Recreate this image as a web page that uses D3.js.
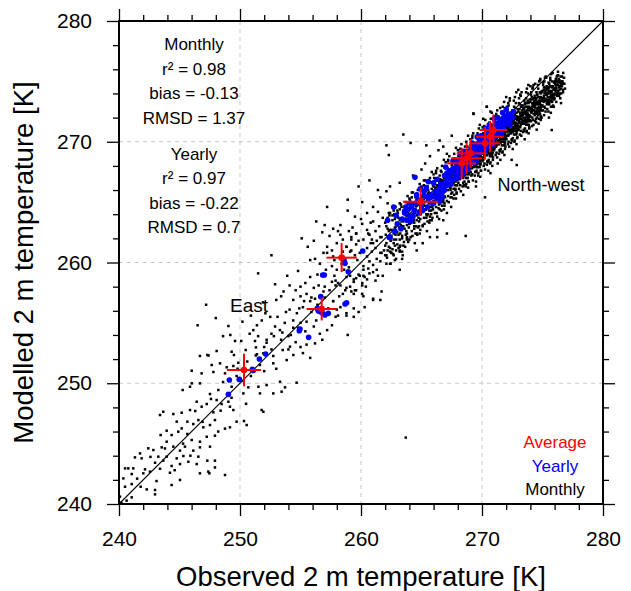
<!DOCTYPE html>
<html><head><meta charset="utf-8">
<script src="https://cdn.jsdelivr.net/npm/d3@7"></script>
<style>body{margin:0;background:#fff}svg{display:block}text{font-family:"Liberation Sans",Arial,Helvetica,sans-serif}</style>
</head><body><svg id="c" width="631" height="591"></svg>
<script>
const majorTicks=[240,250,260,270,280];
const minorTicks=[242,244,246,248,252,254,256,258,262,264,266,268,272,274,276,278];
const gridValues=[250,260,270];
const xTitle="Observed 2 m temperature [K]";
const yTitle="Modelled 2 m temperature [K]";
const statsMonthly=["Monthly","r² = 0.98","bias = -0.13","RMSD = 1.37"];
const statsYearly=["Yearly","r² = 0.97","bias = -0.22","RMSD = 0.7"];
const legendLabels=["Average","Yearly","Monthly"];
const legendColors=["#ff0000","#0000ff","#000000"];
const regionNames=["North-west","East"];

// monthly values [observed, modelled]
const monthlyCold=[[249.59,253.5],[251.24,253.5],[252.2,253.36],[247.3,252.34],[246.69,252.26],[248.07,252.67],[249.31,252.61],[249.5,252.34],[250.47,252.75],[251.32,252.97],[251.93,252.48],[252.75,252.26],[253.53,252.75],[254.13,253.03],[254.41,252.34],[253.86,251.92],[252.75,251.65],[251.65,251.51],[249.86,251.7],[249.45,251.43],[248.9,251.32],[248.35,251.65],[247.66,251.51],[246.83,250.82],[246.01,251.04],[247.8,250.93],[248.76,250.82],[249.72,250.6],[250.28,250.21],[250.69,249.66],[251.52,249.71],[252.2,249.85],[253.31,250.13],[253.72,249.66],[254.68,250.05],[252.75,249.16],[253.44,249.3],[251.65,249.16],[250.28,249.16],[249.31,249.71],[248.21,249.44],[247.52,249.11],[246.69,249.99],[246.01,249.99],[245.26,249.44],[245.87,249.71],[248.07,248.61],[248.48,248.28],[249.04,248.47],[249.17,248.06],[249.45,247.78],[248.4,247.73],[247.8,247.59],[247.25,248.28],[246.83,248.06],[246.42,248.47],[245.87,247.78],[245.18,247.56],[244.49,247.45],[243.66,247.64],[243.39,247.37],[249.72,246.82],[250.33,246.87],[250.55,246.54],[251.79,247.78],[251.93,247.64],[249.17,246.35],[248.76,246.24],[247.93,246.95],[247.52,246.54],[246.97,246.35],[246.56,246.95],[246.14,246.62],[245.65,246.82],[245.18,246.26],[244.77,246.82],[243.94,246.07],[243.44,245.71],[244.35,245.71],[244.9,245.99],[245.65,245.8],[246.01,245.3],[246.69,245.16],[247.25,245.57],[247.93,245.66],[247.52,244.75],[246.69,244.69],[246.14,244.42],[245.45,244.75],[245.04,244.42],[244.49,244.75],[243.94,245.16],[243.53,244.69],[242.84,244.47],[242.42,244.61],[241.74,244.19],[241.32,243.86],[241.87,243.78],[243.25,243.92],[243.94,243.92],[244.77,243.78],[245.32,243.97],[246.56,243.92],[247.3,243.59],[247.93,243.59],[246.42,243.31],[245.73,243.5],[245.04,243.31],[244.35,243.15],[243.66,243.59],[242.98,243.42],[242.56,242.68],[242.15,242.87],[241.18,242.95],[240.77,242.95],[240.5,242.95],[241.05,242.48],[242.01,242.54],[240.36,242.12],[241.05,241.65],[241.79,241.43],[242.29,241.21],[242.98,241.16],[244.35,241.57],[245.04,241.99],[246.69,242.54],[247.38,242.68],[247.93,243.03],[248.76,242.4],[240.08,240.61],[240.5,241.43],[240.63,240.28],[241.05,240.55],[240.2,240.1],[242.98,240.8],[244.21,242.59],[243.39,242.92],[247.47,242.54],[249.04,254.74],[249.2,254.0],[247.4,252.3],
[241.5,242.1],[242.6,243.9],[243.1,241.9],[243.8,244.6],[244.6,242.8],[245.3,245.0],[245.9,244.0],[246.3,247.7],[246.9,246.8],[247.6,248.7],[248.2,246.0],[248.6,250.1],[249.3,248.8],[249.8,251.2],[250.5,248.3],[250.9,250.6],[251.4,252.4],[252.0,251.0],[252.6,252.8],[253.0,251.2],[253.5,254.2],[254.0,252.8],[254.4,254.6],[254.9,256.2],[255.4,254.3],[255.9,257.1],[256.3,255.2],[256.9,257.6],[257.3,256.2],[257.8,258.9],[258.2,257.2],[258.6,259.4],[259.1,258.9],[259.7,260.2],[260.2,258.9],[260.8,261.6],[261.3,261.8],[261.9,261.0],[250.2,255.1],[248.6,253.9],[247.2,256.5],[248.0,255.4],[246.5,254.8]];
const monthlyMid=[[258.3,262.3],[259.0,262.6],[259.2,262.1],[259.6,262.4],[260.2,261.9],[260.7,262.3],[261.2,262.6],[261.7,262.1],[262.1,261.6],[262.7,262.4],[263.0,261.5],[261.0,261.6],[260.5,261.2],[259.6,261.5],[259.2,261.0],[258.8,261.3],[258.0,261.6],[257.6,261.0],[257.2,260.8],[252.6,260.6],[255.8,260.2],[256.2,260.3],[256.6,259.9],[257.6,259.7],[258.0,259.4],[258.8,258.8],[259.4,258.6],[259.8,259.0],[260.2,259.7],[260.7,260.1],[261.3,260.3],[261.7,260.8],[262.1,259.9],[262.7,260.6],[263.2,261.0],[261.0,259.2],[260.5,258.6],[260.1,258.1],[259.6,257.7],[259.2,257.6],[260.2,257.2],[261.0,256.9],[261.7,257.6],[255.8,258.8],[255.4,258.3],[255.0,258.0],[254.6,257.7],[254.1,258.1],[253.6,257.6],[253.4,257.2],[253.0,256.9],[254.4,256.9],[255.0,257.2],[255.5,257.4],[256.1,257.9],[256.5,258.1],[257.0,258.0],[257.4,257.7],[257.9,258.5],[258.3,258.1],[258.8,257.9],[251.5,259.1],[254.1,256.1],[254.7,255.8],[255.2,256.3],[255.8,256.8],[256.2,257.0],[257.7,256.8],[258.3,256.3],[258.8,255.8],[259.4,255.5],[259.8,255.9],[260.3,256.3],[257.9,255.5],[257.6,254.8],[257.2,254.4],[256.6,254.1],[256.1,254.7],[255.5,255.1],[255.0,255.0],[254.4,255.2],[253.7,255.0],[253.3,254.4],[252.9,254.7],[252.5,255.5],[252.1,255.8],[251.8,255.2],[251.4,254.8],[251.1,254.4],[250.8,254.1],[251.5,253.9],[252.2,253.6],[252.8,253.9],[253.4,253.6],[254.0,253.9],[254.6,253.4],[255.0,253.0],[255.5,253.2],[256.2,253.3],[255.2,252.5],[255.8,252.1],[256.8,253.6],[261.6,256.9],[263.2,259.4],
[259.1,260.9],[259.5,260.6],[259.9,260.8],[260.5,260.5],[260.9,260.9],[261.6,260.8],[262.0,260.6],[262.5,260.8],[263.2,260.9],[263.4,260.3],[262.8,260.2],[262.4,259.9],[261.6,260.1],[261.0,259.8],[260.6,259.5],[260.2,259.4],[259.9,258.9],[259.6,258.7],[259.4,258.4],[259.1,258.0],[259.5,257.7],[260.1,258.3],[260.3,258.8],[260.7,259.1],[261.3,259.4],[261.4,258.9],[261.8,258.9],[261.2,258.5],[260.4,258.0],[260.1,257.4],[259.4,257.4],[258.7,257.7],[258.5,257.4],[258.1,258.3],[257.9,258.1],[257.6,258.4],[257.7,256.8],[258.0,256.1],[258.1,255.6],[258.8,255.6],[259.4,256.2],[261.0,257.0],[258.9,254.0],[263.7,245.5],
[262.1,269.7],[265.4,269.7],[264.1,269.9],[262.3,268.9],[258.9,264.3],[255.1,262.0],[257.7,262.8],[258.3,263.1],[260.1,265.0],[259.5,263.8],[260.1,263.2],[260.5,264.1],[261.0,264.6],[261.6,265.4],[262.1,265.9],[261.4,264.2],[261.0,263.4],[261.8,263.7],[262.4,264.1],[260.5,262.7],[259.6,262.4],[259.2,261.9],[258.8,261.3],[258.5,260.9],[260.9,261.9],[261.6,262.1],[262.4,262.7],[262.9,263.1],[263.2,263.5],[263.5,263.0],[264.0,263.2],[262.7,261.9],[263.2,261.3],[264.0,261.9],[264.6,262.4],[265.1,263.0],[265.7,263.5],[266.3,263.8],[264.6,263.5],[263.8,262.4],[257.7,260.5],[257.2,261.3],[256.9,260.8],[261.4,266.0],[262.4,266.3],[263.2,266.6],[264.3,267.2],[265.0,267.7],[265.3,268.2],[265.7,268.8],[266.4,269.3],[266.8,269.6],[267.1,269.0],[265.7,262.1],[266.3,262.7],[266.8,263.5],[267.1,264.1],[265.1,261.6],[264.6,261.0],[263.8,261.9],[267.1,262.4],[266.3,262.1],[256.3,263.4],[257.2,264.6],[256.8,262.5],
[256.4,259.0],[257.1,259.4],[257.8,260.2],[258.5,261.9],[259.3,262.9],[260.0,263.6],[260.8,263.3],[261.5,263.0],[262.2,264.9],[258.1,262.6],[257.4,262.2],[259.8,261.8],[261.2,261.2],[260.6,262.4],[259.0,259.6],[258.4,259.9],[257.0,257.1],[256.4,256.5],[255.9,255.9],[255.3,256.8],[254.8,254.6],[254.2,254.0],[253.8,255.9],[253.1,255.5],[252.6,254.1],[252.0,253.0],[251.3,252.3],[250.6,251.8],[250.1,253.5],[250.9,255.6],[251.9,256.7],[252.9,258.2],[253.9,258.9],[254.8,259.3],[255.6,261.3],[256.1,261.8],[257.0,263.1],[258.9,265.2],[259.8,266.3],[260.7,266.8]];
const monthlyWarm=[[262.0,261.4],[262.1,263.0],[262.2,261.0],[262.3,262.6],[262.4,260.9],[262.5,262.2],[262.6,263.5],[262.7,261.6],[262.8,262.9],[262.9,261.9],[262.05,262.3],[262.15,260.4],[262.35,263.9],[262.45,261.8],[262.55,262.7],[262.65,260.7],[262.75,264.0],[262.85,262.3],[262.95,263.2],[262.3,261.3],[262.6,261.1],[262.8,263.6],[262.2,262.8],[262.9,260.3],
[263.0,262.5],[263.1,263.7],[263.2,261.9],[263.3,263.1],[263.4,262.2],[263.5,264.3],[263.6,262.8],[263.7,263.9],[263.8,262.1],[263.9,263.4],[263.05,264.1],[263.15,262.9],[263.25,261.4],[263.35,264.6],[263.45,263.0],[263.55,261.7],[263.65,264.0],[263.75,262.6],[263.85,264.8],[263.95,262.9],[263.1,262.3],[263.3,262.7],[263.5,263.4],[263.7,262.3],[263.9,264.2],[263.2,264.9],[263.4,260.9],[263.6,263.6],[263.8,263.1],[263.0,263.8],
[264.0,263.2],[264.1,264.6],[264.2,262.6],[264.3,264.0],[264.4,263.3],[264.5,265.4],[264.6,263.9],[264.7,262.9],[264.8,264.8],[264.9,263.6],[264.05,265.2],[264.15,263.8],[264.25,262.2],[264.35,264.9],[264.45,264.1],[264.55,263.0],[264.65,265.7],[264.75,264.3],[264.85,262.4],[264.95,265.3],[264.1,263.4],[264.3,263.7],[264.5,264.4],[264.7,264.0],[264.9,264.5],[264.2,265.8],[264.4,262.8],[264.6,264.7],[264.8,263.4],[264.0,264.4],[264.35,263.5],[264.55,265.0],[264.75,263.7],[264.95,264.0],
[265.0,264.2],[265.1,265.6],[265.2,263.7],[265.3,265.0],[265.4,264.4],[265.5,266.3],[265.6,264.9],[265.7,263.8],[265.8,265.7],[265.9,264.6],[265.05,266.2],[265.15,264.8],[265.25,263.2],[265.35,265.9],[265.45,265.2],[265.55,264.0],[265.65,266.6],[265.75,265.3],[265.85,263.5],[265.95,266.4],[265.1,264.5],[265.3,264.7],[265.5,265.4],[265.7,265.0],[265.9,265.5],[265.2,266.8],[265.4,263.7],[265.6,265.8],[265.8,264.3],[265.0,265.4],[265.35,264.4],[265.55,266.0],[265.75,264.6],[265.95,265.0],[265.15,265.2],[265.45,263.9],[265.65,264.3],[265.85,266.1],
[266.0,265.1],[266.1,266.5],[266.2,264.6],[266.3,266.0],[266.4,265.3],[266.5,267.2],[266.6,265.8],[266.7,264.7],[266.8,266.6],[266.9,265.5],[266.05,267.0],[266.15,265.7],[266.25,264.1],[266.35,266.8],[266.45,266.1],[266.55,264.9],[266.65,267.5],[266.75,266.2],[266.85,264.4],[266.95,267.3],[266.1,265.4],[266.3,265.6],[266.5,266.3],[266.7,265.9],[266.9,266.4],[266.2,267.6],[266.4,264.5],[266.6,266.7],[266.8,265.2],[266.0,266.3],[266.35,265.3],[266.55,266.9],[266.75,265.5],[266.95,265.9],[266.15,266.2],[266.45,264.8],[266.65,265.2],[266.85,267.0],[266.25,265.9],[266.6,266.1],[266.9,264.9],
[267.0,266.0],[267.1,267.4],[267.2,265.5],[267.3,266.9],[267.4,266.2],[267.5,268.1],[267.6,266.7],[267.7,265.6],[267.8,267.5],[267.9,266.4],[267.05,267.9],[267.15,266.6],[267.25,265.0],[267.35,267.7],[267.45,267.0],[267.55,265.8],[267.65,268.4],[267.75,267.1],[267.85,265.3],[267.95,268.2],[267.1,266.3],[267.3,266.5],[267.5,267.2],[267.7,266.8],[267.9,267.3],[267.2,268.5],[267.4,265.4],[267.6,267.6],[267.8,266.1],[267.0,267.2],[267.35,266.2],[267.55,267.8],[267.75,266.4],[267.95,266.8],[267.15,267.1],[267.45,265.7],[267.65,266.1],[267.85,267.9],[267.25,266.8],[267.6,267.0],[267.9,265.8],[267.05,266.6],[267.4,267.5],[267.7,267.9],
[268.0,266.9],[268.1,268.3],[268.2,266.4],[268.3,267.8],[268.4,267.1],[268.5,269.0],[268.6,267.6],[268.7,266.5],[268.8,268.4],[268.9,267.3],[268.05,268.8],[268.15,267.5],[268.25,265.9],[268.35,268.6],[268.45,267.9],[268.55,266.7],[268.65,269.3],[268.75,268.0],[268.85,266.2],[268.95,269.1],[268.1,267.2],[268.3,267.4],[268.5,268.1],[268.7,267.7],[268.9,268.2],[268.2,269.4],[268.4,266.3],[268.6,268.5],[268.8,267.0],[268.0,268.1],[268.35,267.1],[268.55,268.7],[268.75,267.3],[268.95,267.7],[268.15,268.0],[268.45,266.6],[268.65,267.0],[268.85,268.8],[268.25,267.7],[268.6,267.9],[268.9,266.7],[268.05,267.5],[268.4,268.4],[268.7,268.8],[268.2,267.0],[268.8,269.6],
[268.12,267.6],[268.32,268.2],[268.52,267.5],[268.72,268.3],[268.92,267.8],[268.22,268.6],[268.42,267.7],[268.62,268.0],[268.82,267.5],[268.02,267.7],[268.38,268.0],[268.78,267.9],[268.58,267.3],[268.18,267.9],[268.88,268.4],
[269.0,267.8],[269.1,269.2],[269.2,267.3],[269.3,268.7],[269.4,268.0],[269.5,269.9],[269.6,268.5],[269.7,267.4],[269.8,269.3],[269.9,268.2],[269.05,269.7],[269.15,268.4],[269.25,266.8],[269.35,269.5],[269.45,268.8],[269.55,267.6],[269.65,270.2],[269.75,268.9],[269.85,267.1],[269.95,270.0],[269.1,268.1],[269.3,268.3],[269.5,269.0],[269.7,268.6],[269.9,269.1],[269.2,270.3],[269.4,267.2],[269.6,269.4],[269.8,267.9],[269.0,269.0],[269.35,268.0],[269.55,269.6],[269.75,268.2],[269.95,268.6],[269.15,268.9],[269.45,267.5],[269.65,267.9],[269.85,269.7],[269.25,268.6],[269.6,268.8],[269.9,267.6],[269.05,268.4],[269.4,269.3],[269.7,269.7],[269.2,267.9],[269.8,270.5],[269.3,272.3],[269.5,266.3],
[269.12,268.5],[269.32,269.1],[269.52,268.4],[269.72,269.2],[269.92,268.7],[269.22,269.5],[269.42,268.6],[269.62,268.9],[269.82,268.4],[269.02,268.6],[269.38,268.9],[269.78,268.8],[269.58,268.2],[269.18,268.8],[269.88,269.4],
[270.0,268.7],[270.1,270.1],[270.2,268.2],[270.3,269.6],[270.4,268.9],[270.5,270.8],[270.6,269.4],[270.7,268.3],[270.8,270.2],[270.9,269.1],[270.05,270.6],[270.15,269.3],[270.25,267.7],[270.35,270.4],[270.45,269.7],[270.55,268.5],[270.65,271.1],[270.75,269.8],[270.85,268.0],[270.95,270.9],[270.1,269.0],[270.3,269.2],[270.5,269.9],[270.7,269.5],[270.9,270.0],[270.2,271.2],[270.4,268.1],[270.6,270.3],[270.8,268.8],[270.0,269.9],[270.35,268.9],[270.55,270.5],[270.75,269.1],[270.95,269.5],[270.15,269.8],[270.45,268.4],[270.65,268.8],[270.85,270.6],[270.25,269.5],[270.6,269.7],[270.9,268.5],[270.05,269.3],[270.4,270.2],[270.7,270.6],[270.2,268.8],[270.8,271.4],[270.4,272.9],[270.7,267.4],[270.1,271.9],
[270.12,269.5],[270.32,270.0],[270.52,269.3],[270.72,270.1],[270.92,269.6],[270.22,270.4],[270.42,269.5],[270.62,269.8],[270.82,269.3],[270.02,269.5],[270.38,269.8],[270.78,269.7],[270.58,269.1],[270.18,269.7],[270.88,270.3],
[271.0,269.6],[271.1,271.0],[271.2,269.1],[271.3,270.5],[271.4,269.8],[271.5,271.7],[271.6,270.3],[271.7,269.2],[271.8,271.1],[271.9,270.0],[271.05,271.5],[271.15,270.2],[271.25,268.7],[271.35,271.3],[271.45,270.6],[271.55,269.4],[271.65,272.0],[271.75,270.7],[271.85,268.9],[271.95,271.8],[271.1,269.9],[271.3,270.1],[271.5,270.8],[271.7,270.4],[271.9,270.9],[271.2,272.1],[271.4,269.0],[271.6,271.2],[271.8,269.7],[271.0,270.8],[271.35,269.8],[271.55,271.4],[271.75,270.0],[271.95,270.4],[271.15,270.7],[271.45,269.3],[271.65,269.7],[271.85,271.5],[271.25,270.4],[271.6,270.6],[271.9,269.4],[271.05,270.2],[271.4,271.1],[271.7,271.5],[271.2,269.7],[271.8,272.3],[271.5,272.8],[271.3,268.2],
[271.12,270.4],[271.32,270.9],[271.52,270.2],[271.72,271.0],[271.92,270.5],[271.22,271.3],[271.42,270.4],[271.62,270.7],[271.82,270.2],[271.02,270.4],[271.38,270.7],[271.78,270.6],[271.58,270.0],[271.18,270.6],[271.88,271.2],
[272.0,270.5],[272.1,271.9],[272.2,270.0],[272.3,271.4],[272.4,270.7],[272.5,272.6],[272.6,271.2],[272.7,270.1],[272.8,272.0],[272.9,270.9],[272.05,272.4],[272.15,271.1],[272.25,269.6],[272.35,272.2],[272.45,271.5],[272.55,270.3],[272.65,272.9],[272.75,271.6],[272.85,269.8],[272.95,272.7],[272.1,270.8],[272.3,271.0],[272.5,271.7],[272.7,271.3],[272.9,271.8],[272.2,273.0],[272.4,269.9],[272.6,272.1],[272.8,270.6],[272.0,271.7],[272.35,270.7],[272.55,272.3],[272.75,270.9],[272.95,271.3],[272.15,271.6],[272.45,270.2],[272.65,270.6],[272.85,272.4],[272.25,271.3],[272.6,271.5],[272.9,270.3],[272.05,271.1],[272.4,272.0],[272.7,272.4],[272.2,270.6],[272.8,273.2],[272.3,273.6],
[272.12,271.3],[272.32,271.8],[272.52,271.1],[272.72,271.9],[272.92,271.4],[272.22,272.2],[272.42,271.3],[272.62,271.6],[272.82,271.1],[272.02,271.3],[272.38,271.6],[272.78,271.5],[272.58,270.9],[272.18,271.5],[272.88,272.1],[272.48,272.0],[272.68,270.9],[272.28,270.9],
[273.0,271.3],[273.1,272.7],[273.2,270.9],[273.3,272.2],[273.4,271.5],[273.5,273.4],[273.6,272.0],[273.7,270.9],[273.8,272.8],[273.9,271.7],[273.05,273.2],[273.15,271.9],[273.25,270.5],[273.35,273.0],[273.45,272.3],[273.55,271.1],[273.65,273.6],[273.75,272.4],[273.85,270.7],[273.95,273.5],[273.1,271.6],[273.3,271.8],[273.5,272.5],[273.7,272.1],[273.9,272.6],[273.2,273.8],[273.4,270.8],[273.6,272.9],[273.8,271.4],[273.0,272.5],[273.35,271.5],[273.55,273.1],[273.75,271.7],[273.95,272.1],[273.15,272.4],[273.45,271.0],[273.65,271.4],[273.85,273.2],[273.25,272.1],[273.6,272.3],[273.9,271.1],[273.05,271.9],[273.4,272.8],[273.7,273.2],[273.2,271.4],[273.8,274.0],
[273.12,272.1],[273.32,272.6],[273.52,271.9],[273.72,272.6],[273.92,272.2],[273.22,272.9],[273.42,272.0],[273.62,272.4],[273.82,271.9],[273.02,272.0],[273.38,272.4],[273.78,272.3],[273.58,271.7],[273.18,272.3],[273.88,272.9],[273.48,272.7],[273.68,271.6],[273.28,271.6],
[274.0,272.1],[274.1,273.5],[274.2,271.8],[274.3,273.0],[274.4,272.4],[274.5,274.1],[274.6,272.8],[274.7,271.9],[274.8,273.6],[274.9,272.6],[274.05,273.9],[274.15,272.7],[274.25,271.4],[274.35,273.8],[274.45,273.1],[274.55,272.0],[274.65,274.4],[274.75,273.2],[274.85,271.8],[274.95,274.2],[274.1,272.5],[274.3,272.6],[274.5,273.3],[274.7,272.9],[274.9,273.4],[274.2,274.5],[274.4,271.7],[274.6,273.7],[274.8,272.3],[274.0,273.3],[274.35,272.3],[274.55,273.9],[274.75,272.5],[274.95,273.0],[274.15,273.2],[274.45,271.9],[274.65,272.2],[274.85,274.0],[274.25,272.9],[274.6,273.1],[274.9,272.0],[274.4,274.8],
[274.12,272.9],[274.32,273.4],[274.52,272.6],[274.72,273.4],[274.92,272.9],[274.22,273.6],[274.42,272.8],[274.62,273.2],[274.82,272.7],[274.02,272.8],[274.38,273.2],[274.78,273.1],[274.58,272.4],[274.18,273.1],[274.88,273.7],[274.48,273.5],[274.68,272.5],[274.28,272.3],
[275.0,273.0],[275.1,274.3],[275.2,272.8],[275.3,273.9],[275.4,273.3],[275.5,274.9],[275.6,273.7],[275.7,272.9],[275.8,274.5],[275.9,273.6],[275.05,274.7],[275.15,273.6],[275.25,272.5],[275.35,274.6],[275.45,274.0],[275.55,273.1],[275.65,275.1],[275.75,274.1],[275.85,272.9],[275.95,274.9],[275.1,273.4],[275.3,273.5],[275.5,274.2],[275.7,273.8],[275.9,274.3],[275.2,275.3],[275.4,272.7],[275.6,274.6],[275.8,273.3],[275.0,274.1],[275.35,273.2],[275.55,274.5],[275.75,273.4],[275.95,273.9],
[275.12,273.8],[275.32,274.3],[275.52,273.5],[275.72,274.2],[275.92,273.8],[275.22,274.5],[275.42,273.7],[275.62,274.0],[275.82,273.6],[275.02,273.6],[275.38,274.0],[275.78,273.9],[275.58,273.3],[275.18,274.0],[275.88,274.6],[275.48,274.4],
[276.0,274.0],[276.1,275.2],[276.2,273.8],[276.3,274.7],[276.4,274.3],[276.5,275.4],[276.6,274.6],[276.7,274.1],[276.05,274.8],[276.15,274.4],[276.25,275.5],[276.35,273.9],[276.45,274.9],[276.55,274.0],[276.2,275.0],[276.4,275.1],[276.8,274.8],[276.0,273.6],[276.3,274.2],[276.65,275.0],[276.12,274.5],[276.32,275.0],[276.52,274.4],[276.22,274.1],[276.42,274.6],[276.02,274.3],
[272.45,268.5],[272.87,268.07],[275.76,270.97],[270.39,272.9],[269.29,272.35],[268.65,262.2],[270.25,265.4],[263.5,270.6],[266.5,270.1],[267.5,270.5],[270.7,272.5],[272.0,273.7],[273.0,274.3],[274.0,274.6],[274.8,275.1],[275.3,275.3],[276.0,275.0],[276.7,274.8],[276.3,275.5],[276.2,274.1],[275.9,273.9],[275.3,273.5],[274.8,273.2],[274.1,272.6],[273.7,272.2],[273.3,271.8],[272.9,271.3],[272.5,271.0],[271.9,270.7],[271.5,270.3],[271.1,269.6],[270.7,269.0],[270.1,268.5],[269.6,267.9]];
const monthlyBandEdge=[[262.1,260.6],[262.3,264.1],[262.5,260.8],[262.7,264.3],[262.9,261.0],[262.2,263.7],[262.4,261.2],[262.6,263.9],[262.8,261.4],[262.0,263.3],[262.45,259.9],[262.85,264.6],
[263.1,261.2],[263.3,264.8],[263.5,261.4],[263.7,265.0],[263.9,261.7],[263.2,264.4],[263.4,262.0],[263.6,264.6],[263.8,262.0],[263.0,264.3],[263.45,260.6],[263.85,265.5],[263.25,262.4],[263.65,261.3],
[264.1,262.1],[264.3,265.8],[264.5,262.4],[264.7,266.0],[264.9,262.7],[264.2,265.4],[264.4,263.0],[264.6,265.6],[264.8,263.0],[264.0,265.3],[264.45,261.6],[264.85,266.5],[264.25,263.4],[264.65,262.3],[264.15,264.8],[264.55,264.7],
[265.1,263.1],[265.3,266.8],[265.5,263.4],[265.7,267.0],[265.9,263.7],[265.2,266.4],[265.4,264.0],[265.6,266.6],[265.8,264.0],[265.0,266.3],[265.45,262.6],[265.85,267.5],[265.25,264.4],[265.65,263.3],[265.15,265.8],[265.55,265.7],[265.95,264.4],
[266.1,264.1],[266.3,267.8],[266.5,264.4],[266.7,268.0],[266.9,264.7],[266.2,267.4],[266.4,265.0],[266.6,267.6],[266.8,265.0],[266.0,267.3],[266.45,263.6],[266.85,268.5],[266.25,265.4],[266.65,264.3],[266.15,266.8],[266.55,266.7],[266.95,265.4],[266.35,266.4],
[267.1,265.1],[267.3,268.8],[267.5,265.4],[267.7,269.0],[267.9,265.7],[267.2,268.4],[267.4,266.0],[267.6,268.6],[267.8,266.0],[267.0,268.3],[267.45,264.6],[267.85,269.5],[267.25,266.4],[267.65,265.3],[267.15,267.8],[267.55,267.7],[267.95,266.4],[267.35,267.4],[267.75,268.1],
[268.1,266.1],[268.3,269.8],[268.5,266.4],[268.7,270.0],[268.9,266.7],[268.2,269.4],[268.4,267.0],[268.6,269.6],[268.8,267.0],[268.0,269.3],[268.45,265.6],[268.85,270.5],[268.25,267.4],[268.65,266.3],[268.15,268.8],[268.55,268.7],[268.95,267.4],[268.35,268.4],[268.75,269.1],[268.05,266.6],
[269.12,267.2],[269.28,270.7],[269.47,267.5],[269.74,271.1],[269.93,267.6],[269.21,270.5],[269.38,267.9],[269.63,270.7],[269.86,268.1],[269.03,270.2],[269.51,266.7],[269.82,271.4],[269.27,268.3],[269.68,267.2],[269.14,269.9],[269.57,269.8],[269.97,268.5],[269.33,269.5],[269.77,270.2],[269.08,267.5],
[270.14,268.0],[270.27,271.8],[270.46,268.3],[270.73,271.9],[270.91,268.7],[270.19,271.3],[270.36,268.9],[270.62,271.6],[270.84,268.9],[270.06,271.2],[270.53,267.6],[270.81,272.4],[270.24,269.3],[270.67,268.2],[270.11,270.7],[270.58,270.8],[270.96,269.3],[270.31,270.5],[270.79,271.0],[270.04,268.4],
[271.13,268.9],[271.26,272.6],[271.48,269.2],[271.71,272.9],[271.94,269.6],[271.18,272.3],[271.37,269.9],[271.64,272.5],[271.87,269.8],[271.07,272.1],[271.52,268.5],[271.83,273.3],[271.23,270.3],[271.69,269.1],[271.12,271.6],[271.56,271.7],[271.98,270.3],[271.34,271.4],[271.76,272.0],[271.03,269.4],
[272.14,269.8],[272.29,273.4],[272.47,270.1],[272.72,273.7],[272.93,270.4],[272.17,273.2],[272.39,270.8],[272.63,273.4],[272.86,270.7],[272.08,272.9],[272.54,269.4],[272.84,274.1],[272.26,271.2],[272.68,270.0],[272.11,272.5],[272.57,272.6],[272.97,271.1],[272.33,272.3],[272.77,272.8],[272.02,270.2],
[273.13,270.6],[273.27,274.1],[273.49,270.9],[273.71,274.4],[273.92,271.2],[273.16,273.9],[273.38,271.5],[273.64,274.1],[273.87,271.4],[273.06,273.6],[273.53,270.2],[273.83,274.7],[273.24,271.9],[273.69,270.8],[273.12,273.1],[273.56,273.2],[273.96,271.8],[273.32,273.0],[273.78,273.4],[273.03,271.0],
[274.14,271.3],[274.26,274.7],[274.48,271.6],[274.73,275.0],[274.91,272.0],[274.17,274.4],[274.37,272.2],[274.63,274.7],[274.86,272.1],[274.07,274.1],[274.52,271.0],[274.82,275.2],[274.23,272.6],[274.68,271.5],[274.11,273.7],[274.57,273.9],[274.97,272.6],[274.33,273.6],[274.77,274.1],[274.04,271.7],
[275.13,272.2],[275.27,275.4],[275.49,272.5],[275.72,275.6],[275.93,272.9],[275.16,275.0],[275.38,273.1],[275.64,275.3],[275.87,273.0],[275.06,274.9],[275.53,272.0],[275.84,275.7],[275.24,273.4],[275.69,272.4],[275.12,274.5],[275.56,274.8],[275.96,273.5],[275.33,274.4],[275.78,275.0],[275.03,272.6],
[276.14,273.3],[276.28,275.8],[276.47,273.6],[276.71,275.7],[276.18,275.4],[276.37,273.8],[276.62,275.4],[276.86,274.4],[276.06,275.0],[276.53,273.2],[276.24,274.0],[276.69,274.3],[276.11,274.7],[276.56,275.0],[276.33,275.2],[276.78,275.3]];
const monthlyBandCore=[[266.08,265.6],[266.27,266.4],[266.43,265.7],[266.61,266.5],[266.82,265.8],[266.97,266.9],[266.19,265.2],[266.52,265.5],[266.71,266.8],[266.38,266.0],[266.88,266.2],[266.03,265.8],[266.64,265.6],[266.47,266.6],
[267.07,266.4],[267.24,267.3],[267.42,266.5],[267.63,267.4],[267.81,266.7],[267.96,267.6],[267.18,266.0],[267.53,266.4],[267.72,267.7],[267.37,267.0],[267.87,267.0],[267.02,266.8],[267.66,266.6],[267.48,267.6],
[268.09,267.3],[268.26,268.1],[268.44,267.4],[268.63,268.2],[268.83,267.6],[268.97,268.5],[268.17,266.9],[268.54,267.2],[268.73,268.6],[268.36,267.9],[268.87,267.9],[268.03,267.6],[268.67,267.5],[268.49,268.5],
[269.06,268.2],[269.23,269.0],[269.44,268.3],[269.61,269.1],[269.83,268.5],[269.96,269.4],[269.17,267.8],[269.53,268.1],[269.72,269.5],[269.36,268.8],[269.89,268.8],[269.01,268.4],[269.66,268.4],[269.48,269.4],
[270.08,269.1],[270.23,269.9],[270.44,269.2],[270.61,270.0],[270.83,269.5],[270.97,270.3],[270.16,268.7],[270.53,269.0],[270.72,270.4],[270.37,269.7],[270.89,269.7],[270.03,269.2],[270.66,269.3],[270.49,270.3],
[271.09,270.0],[271.24,270.8],[271.43,270.1],[271.62,270.9],[271.84,270.4],[271.97,271.2],[271.16,269.6],[271.53,269.9],[271.73,271.3],[271.36,270.6],[271.88,270.6],[271.04,270.1],[271.66,270.2],[271.47,271.2],
[272.09,270.9],[272.24,271.7],[272.43,271.0],[272.62,271.8],[272.84,271.3],[272.97,272.0],[272.16,270.5],[272.53,270.8],[272.73,272.2],[272.36,271.5],[272.88,271.5],[272.04,271.0],[272.66,271.1],[272.47,272.1],
[273.09,271.6],[273.24,272.4],[273.43,271.7],[273.62,272.5],[273.84,272.0],[273.97,272.7],[273.16,271.2],[273.53,271.5],[273.73,272.9],[273.36,272.2],[273.88,272.2],[273.04,271.7],[273.66,271.8],[273.47,272.8],
[274.09,272.4],[274.24,273.2],[274.43,272.5],[274.62,273.3],[274.84,272.8],[274.97,273.5],[274.16,272.0],[274.53,272.3],[274.73,273.7],[274.36,273.0],[274.88,273.0],[274.04,272.5],[274.66,272.6],[274.47,273.6],
[275.09,273.3],[275.24,274.1],[275.43,273.4],[275.62,274.2],[275.84,273.7],[275.97,274.4],[275.16,272.9],[275.53,273.2],[275.73,274.6],[275.36,273.9],[275.88,273.9],[275.04,273.4],[275.66,273.5],[275.47,274.5],
[276.09,274.2],[276.24,274.9],[276.43,274.0],[276.62,274.9],[276.36,274.5],[276.16,273.9],[276.53,274.7],[276.04,274.4]];

// yearly values [observed, modelled]
const yearly=[[249.04,249.08],[249.12,250.27],[249.94,250.32],[251.02,251.15],[251.1,251.05],[251.6,252.01],[252.12,252.42],[254.96,254.49],[254.9,254.35],[255.67,253.8],[256.67,257.17],[256.47,256.01],[256.61,255.93],[256.83,255.79],[257.02,255.65],[257.3,255.79],[256.39,256.2],[258.68,256.56],[258.81,256.67],[256.83,258.96],[256.97,258.96],[258.68,259.93],[258.95,259.24],[258.6,260.21],[260.14,260.95],[262.34,262.08],
[262.2,263.5],[262.4,262.1],[262.7,264.6],[263.6,264.2],[264.05,264.9],[264.3,263.8],[264.46,267.05],[264.9,266.1],[265.56,266.7],[265.97,265.45],[266.5,266.1],[266.7,265.45],[263.6,264.1],[263.9,264.4],[264.2,264.6],[264.5,264.9],[264.2,263.7],[265.7,265.4],[266.0,264.9],[266.3,265.3],[266.5,265.1],[266.5,266.0],[266.8,266.1],[267.0,266.7],[267.1,267.4],[267.3,267.6],
[267.2,267.0],[267.4,267.5],[267.5,266.9],[267.6,267.8],[267.8,267.3],[267.9,268.0],[268.0,267.6],[268.1,268.4],[268.2,267.8],[268.3,268.9],[268.4,267.9],[268.5,268.5],[268.6,267.7],[268.7,268.8],[268.8,268.2],[268.9,269.2],[269.0,268.5],[269.1,269.4],[269.2,268.7],[269.3,269.0],[269.4,269.6],[269.5,268.9],[269.6,269.8],[269.7,269.2],[269.8,270.0],[269.9,269.5],[270.0,270.3],[270.1,269.6],[270.2,270.4],[270.3,269.9],[270.4,270.7],[270.5,270.1],[270.6,270.9],[270.7,270.3],[270.8,271.1],[270.9,270.5],[271.0,271.2],[271.1,270.7],[271.2,271.5],[271.3,270.9],[271.4,271.6],[271.5,271.1],[271.6,271.8],[271.7,271.3],[271.8,272.0],[271.9,271.5],[272.0,272.1],[272.1,271.7],[272.2,272.3],[272.3,271.9],[272.4,272.3],
[267.3,267.3],[267.7,266.9],[268.05,267.2],[268.35,268.1],[268.65,268.4],[268.95,268.7],[269.25,268.3],[269.55,269.4],[269.85,269.1],[270.15,270.0],[270.45,269.6],[270.75,270.6],[271.05,270.4],[271.35,271.3],[271.65,270.9],[271.95,271.9],[272.25,271.6],[266.9,267.2],[267.1,266.4],[266.6,266.5],[266.2,265.9],[265.8,265.6],[265.3,265.5],[265.0,264.7],[264.7,265.2],[264.0,263.9],[263.4,263.6],[263.0,263.2],[262.8,262.6],[265.5,264.6],[266.9,266.0],[267.6,268.4],[268.2,269.0],[268.9,268.0],[269.6,270.4],[270.3,271.1],[271.0,271.9],[271.7,272.4],[272.5,272.0],[270.9,269.8],[269.4,268.3],[268.4,267.3],[264.4,264.3],[263.8,263.5],[266.0,266.6],[265.2,265.9],
[262.9,263.9],[263.3,262.8],[263.7,264.6],[264.1,263.4],[264.6,265.6],[265.1,264.3],[265.4,266.2],[265.9,264.9],[266.3,266.9],[266.7,265.8],[267.0,267.9],[267.4,266.5],[267.8,268.5],[268.1,267.1],[268.5,269.2],[268.8,267.7],[269.2,269.9],[269.5,268.4],[269.9,270.5],[270.2,269.2],[270.6,271.4],[270.9,270.0],[271.3,272.0],[271.6,270.6],[272.0,272.7],[272.3,271.4],[272.6,272.5],[267.9,267.0],[268.6,268.9],[269.7,269.8],[270.4,270.1],[271.1,271.4],[271.8,271.1],[266.4,265.6],[265.6,265.3],[264.8,264.1]];

// regional averages with standard deviations
const avgObs=[250.33,256.75,258.40,264.93,268.32,268.73,269.06,270.25,270.66,270.94];
const avgMod=[251.10,256.15,260.40,265.04,268.21,268.63,269.04,269.87,270.42,270.97];
const avgObsSd=[1.4,1.25,1.25,1.45,1.2,1.25,1.15,1.25,1.15,1.15];
const avgModSd=[1.35,0.95,1.2,1.15,1.3,1.3,1.2,1.35,1.3,1.3];

const monthly=monthlyCold.concat(monthlyMid,monthlyWarm,monthlyBandEdge,monthlyBandCore);

const svg=d3.select("#c");
const x=d3.scaleLinear().domain([240,280]).range([119,603]);
const y=d3.scaleLinear().domain([240,280]).range([504,21]);

// grid
const grid=svg.append("g");
grid.selectAll("line.v").data(gridValues).join("line").attr("class","v")
  .attr("x1",d=>x(d)).attr("x2",d=>x(d)).attr("y1",y(280)).attr("y2",y(240));
grid.selectAll("line.h").data(gridValues).join("line").attr("class","h")
  .attr("y1",d=>y(d)).attr("y2",d=>y(d)).attr("x1",x(240)).attr("x2",x(280));
grid.selectAll("line").attr("stroke","#c4c4c4").attr("stroke-width",1).attr("stroke-dasharray","4,4");

// 1:1 line
svg.append("line").attr("x1",x(240)).attr("y1",y(240)).attr("x2",x(280)).attr("y2",y(280))
  .attr("stroke","#000").attr("stroke-width",1.1);

// monthly
svg.append("g").selectAll("rect").data(monthly).join("rect")
  .attr("x",d=>x(d[0])-1.25).attr("y",d=>y(d[1])-1.25).attr("width",2.5).attr("height",2.5).attr("fill","#000");

// yearly
svg.append("g").selectAll("circle").data(yearly).join("circle")
  .attr("cx",d=>x(d[0])).attr("cy",d=>y(d[1])).attr("r",2.8).attr("fill","#0000ff");

// averages
const avg=svg.append("g");
avgObs.forEach((o,i)=>{
  const m=avgMod[i];
  avg.append("line").attr("x1",x(o-avgObsSd[i])).attr("x2",x(o+avgObsSd[i])).attr("y1",y(m)).attr("y2",y(m));
  avg.append("line").attr("x1",x(o)).attr("x2",x(o)).attr("y1",y(m-avgModSd[i])).attr("y2",y(m+avgModSd[i]));
  avg.append("circle").attr("cx",x(o)).attr("cy",y(m)).attr("r",3.3).attr("fill","#ff0000");
});
avg.selectAll("line").attr("stroke","#ff0000").attr("stroke-width",2);

// axes
function styleAxis(g){g.select(".domain").remove();g.selectAll("line").attr("stroke","#000").attr("stroke-width",1.3);}
const fmt=d3.format("d");
svg.append("g").attr("transform",`translate(0,${y(240)})`)
  .call(d3.axisBottom(x).tickValues(majorTicks).tickSizeInner(12).tickSizeOuter(0).tickPadding(15).tickFormat(fmt)).call(styleAxis)
  .selectAll("text").attr("font-size",21).attr("font-family","Liberation Sans, Arial, sans-serif");
svg.append("g").attr("transform",`translate(0,${y(240)})`)
  .call(d3.axisBottom(x).tickValues(minorTicks).tickSizeInner(6).tickSizeOuter(0).tickFormat("")).call(styleAxis);
svg.append("g").attr("transform",`translate(${x(240)},0)`)
  .call(d3.axisLeft(y).tickValues(majorTicks).tickSizeInner(12).tickSizeOuter(0).tickPadding(15).tickFormat(fmt)).call(styleAxis)
  .selectAll("text").attr("font-size",21).attr("font-family","Liberation Sans, Arial, sans-serif");
svg.append("g").attr("transform",`translate(${x(240)},0)`)
  .call(d3.axisLeft(y).tickValues(minorTicks).tickSizeInner(6).tickSizeOuter(0).tickFormat("")).call(styleAxis);
svg.append("g").attr("transform",`translate(0,${y(280)})`)
  .call(d3.axisTop(x).tickValues(majorTicks).tickSizeInner(12).tickSizeOuter(0).tickFormat("")).call(styleAxis);
svg.append("g").attr("transform",`translate(0,${y(280)})`)
  .call(d3.axisTop(x).tickValues(minorTicks).tickSizeInner(6).tickSizeOuter(0).tickFormat("")).call(styleAxis);
svg.append("g").attr("transform",`translate(${x(280)},0)`)
  .call(d3.axisRight(y).tickValues(majorTicks).tickSizeInner(12).tickSizeOuter(0).tickFormat("")).call(styleAxis);
svg.append("g").attr("transform",`translate(${x(280)},0)`)
  .call(d3.axisRight(y).tickValues(minorTicks).tickSizeInner(6).tickSizeOuter(0).tickFormat("")).call(styleAxis);

// frame
svg.append("rect").attr("x",x(240)).attr("y",y(280)).attr("width",x(280)-x(240)).attr("height",y(240)-y(280))
  .attr("fill","none").attr("stroke","#000").attr("stroke-width",2);

// titles
svg.append("text").attr("x",(x(240)+x(280))/2).attr("y",586).attr("text-anchor","middle")
  .attr("font-size",27.5).text(xTitle);
svg.append("text").attr("transform",`translate(33,${(y(240)+y(280))/2}) rotate(-90)`).attr("text-anchor","middle")
  .attr("font-size",27.5).text(yTitle);

// stats text
const statsG=svg.append("g").attr("font-size",17).attr("text-anchor","middle");
statsMonthly.forEach((t,i)=>statsG.append("text").attr("x",194).attr("y",50+i*24.5).text(t));
statsYearly.forEach((t,i)=>statsG.append("text").attr("x",194).attr("y",159.5+i*24.5).text(t));

// region labels
svg.append("text").attr("x",541).attr("y",191).attr("text-anchor","middle").attr("font-size",18).text(regionNames[0]);
svg.append("text").attr("x",249).attr("y",312).attr("text-anchor","middle").attr("font-size",19).text(regionNames[1]);

// legend
const legG=svg.append("g").attr("font-size",17).attr("text-anchor","middle");
legendLabels.forEach((t,i)=>legG.append("text").attr("x",555).attr("y",448+i*23.5).attr("fill",legendColors[i]).text(t));
</script></body></html>
